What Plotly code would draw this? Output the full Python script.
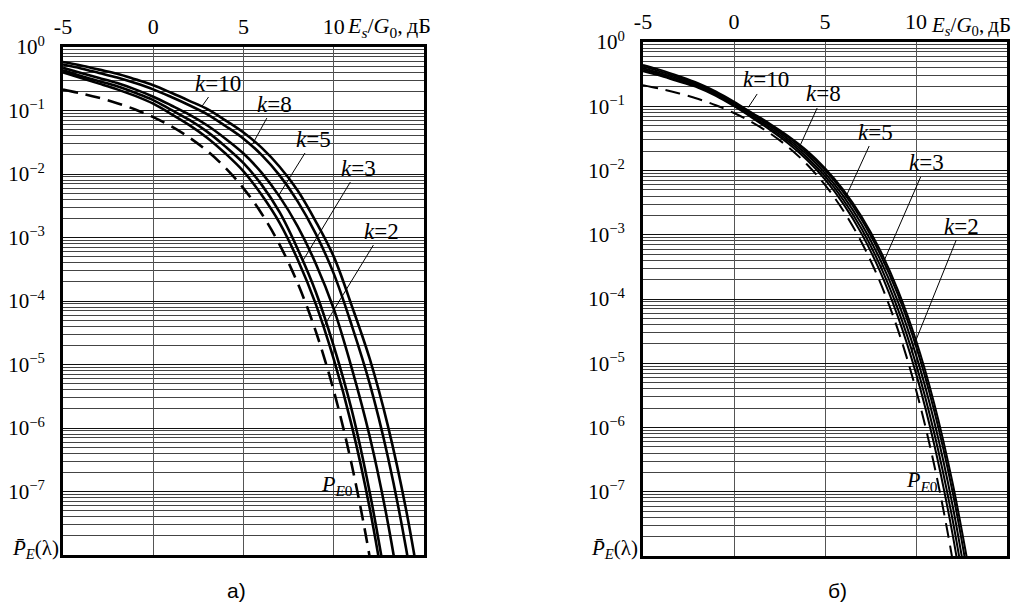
import plotly.graph_objects as go

# ---------------- data ----------------
x_left = list(range(-5, 16))          # Es/G0, dB
x_right = list(range(-5, 14))

p_e0 = [0.2132, 0.1861, 0.1584, 0.1306, 0.1038, 0.0786, 0.0563, 0.0375, 0.0229,
        0.0125, 5.95e-3, 2.39e-3, 7.73e-4, 1.91e-4, 3.36e-5, 3.87e-6, 2.61e-7,
        9.0e-9, 1.3e-10]

left_k2 = [0.40, 0.325, 0.265, 0.215, 0.17, 0.128, 0.088, 0.059, 0.037, 0.021,
           0.011, 4.7e-3, 1.7e-3, 4.5e-4, 9e-5, 1.21e-5, 1.08e-6, 5.3e-8, 1.24e-9]
left_k3 = [0.43, 0.35, 0.29, 0.24, 0.19, 0.146, 0.102, 0.071, 0.046, 0.027,
           0.0148, 6.8e-3, 2.5e-3, 6.6e-4, 1.4e-4, 1.95e-5, 1.9e-6, 9.5e-8, 2.4e-9]
left_k5 = [0.47, 0.39, 0.325, 0.27, 0.215, 0.165, 0.12, 0.086, 0.058, 0.036,
           0.021, 0.0105, 4.4e-3, 1.5e-3, 3.9e-4, 7.5e-5, 8.7e-6, 7.2e-7, 3.2e-8,
           6.5e-10]
left_k8 = [0.53, 0.46, 0.39, 0.33, 0.27, 0.215, 0.163, 0.121, 0.087, 0.057,
           0.036, 0.02, 9.5e-3, 3.7e-3, 1.15e-3, 2.7e-4, 4.1e-5, 4.9e-6, 3.5e-7,
           1.3e-8, 2.1e-10]
left_k10 = [0.58, 0.51, 0.44, 0.38, 0.31, 0.25, 0.19, 0.142, 0.105, 0.07,
            0.045, 0.026, 0.013, 5.5e-3, 1.8e-3, 5e-4, 8.4e-5, 1.21e-5, 1.08e-6,
            5.3e-8, 1.24e-9]

right_k2 = [0.35, 0.295, 0.24, 0.195, 0.145, 0.1, 0.066, 0.0425, 0.0261, 0.0147,
            0.00728, 0.00305, 1.05e-3, 2.79e-4, 5.38e-5, 6.96e-6, 5.44e-7, 2.25e-8,
            4.2e-10]
right_k3 = [0.37, 0.31, 0.253, 0.203, 0.151, 0.104, 0.069, 0.0455, 0.0282, 0.0161,
            0.00815, 0.00351, 1.25e-3, 3.46e-4, 7.03e-5, 9.7e-6, 8.2e-7, 3.8e-8,
            8e-10]
right_k5 = [0.39, 0.325, 0.265, 0.211, 0.157, 0.108, 0.0725, 0.0485, 0.0304, 0.0177,
            0.00911, 0.00404, 1.48e-3, 4.28e-4, 9.2e-5, 1.35e-5, 1.24e-6, 6.3e-8,
            1.5e-9]
right_k8 = [0.415, 0.345, 0.28, 0.221, 0.164, 0.113, 0.076, 0.051, 0.0327, 0.0193,
            0.0102, 0.00461, 1.74e-3, 5.2e-4, 1.18e-4, 1.85e-5, 1.82e-6, 1.03e-7,
            2.8e-9]
right_k10 = [0.44, 0.365, 0.293, 0.23, 0.17, 0.118, 0.079, 0.053, 0.0342, 0.0205,
             0.0109, 0.00503, 1.94e-3, 5.97e-4, 1.39e-4, 2.28e-5, 2.37e-6, 1.42e-7,
             4.4e-9]

x_tick_vals = [-5, 0, 5, 10]
x_tick_text = ["-5", "0", "5", "10"]
y_tick_vals = [1, 1e-1, 1e-2, 1e-3, 1e-4, 1e-5, 1e-6, 1e-7, 1e-8]
y_tick_text = ["10<sup>0</sup>", "10<sup>\u22121</sup>", "10<sup>\u22122</sup>",
               "10<sup>\u22123</sup>", "10<sup>\u22124</sup>", "10<sup>\u22125</sup>",
               "10<sup>\u22126</sup>", "10<sup>\u22127</sup>", ""]
y_axis_label = "<i>P\u0304</i><sub><i>E</i></sub>(\u03bb)"
minor_vals = [m * 10.0 ** e for e in range(-8, 0) for m in range(2, 10)]

# label name, text centre (x, log10 y), leader tip (x, log10 y)
left_labels = [("10", 3.61, -0.567, 2.71, -0.93),
               ("8", 6.72, -0.898, 5.5, -1.53),
               ("5", 8.89, -1.449, 6.94, -2.34),
               ("3", 11.39, -1.906, 8.28, -3.37),
               ("2", 12.67, -2.898, 9.45, -4.40)]
right_labels = [("10", 1.78, -0.591, 0.78, -1.02),
                ("8", 4.92, -0.809, 3.65, -1.60),
                ("5", 7.78, -1.401, 6.13, -2.42),
                ("3", 10.59, -1.883, 8.10, -3.50),
                ("2", 12.52, -2.864, 9.70, -4.85)]

SERIF = "Liberation Serif, Times New Roman, serif"
SANS = "Liberation Sans, Arial, sans-serif"

# the page body has an 8px margin: the figure is drawn 8px in from the corner
OFF = 8
W, H = 1026 - OFF, 615 - OFF

def px(x):
    return (x - OFF) / W

def py(y):
    return 1 - (y - OFF) / H

fig = go.Figure()

def add_panel(xs, curves, xa, ya, width):
    for vals in curves:
        fig.add_trace(go.Scatter(x=xs[:len(vals)], y=vals, mode="lines",
                                 line=dict(color="black", width=width, shape="spline"),
                                 xaxis=xa, yaxis=ya, showlegend=False, hoverinfo="skip"))
    fig.add_trace(go.Scatter(x=xs[:len(p_e0)], y=p_e0, mode="lines",
                             line=dict(color="black", width=width, dash="15px,8px",
                                       shape="spline"),
                             xaxis=xa, yaxis=ya, showlegend=False, hoverinfo="skip"))

add_panel(x_left, [left_k2, left_k3, left_k5, left_k8, left_k10], "x", "y", 2.6)
add_panel(x_right, [right_k2, right_k3, right_k5, right_k8, right_k10], "x2", "y2", 2.0)

xcommon = dict(range=[-5, 15], side="top", tickmode="array", tickvals=x_tick_vals,
               ticktext=x_tick_text, showgrid=True, gridcolor="#555", gridwidth=1,
               showline=True, mirror=True, linecolor="black", linewidth=3, ticks="",
               zeroline=False, automargin=False, ticklabelstandoff=1,
               tickfont=dict(family=SERIF, size=22, color="black"))
ycommon = dict(type="log", range=[-8, 0], tickmode="array", tickvals=y_tick_vals,
               ticktext=y_tick_text, showgrid=True, gridcolor="#111", gridwidth=1,
               minor=dict(tickmode="array", tickvals=minor_vals, showgrid=True,
                          gridcolor="#444", gridwidth=1, ticks=""),
               showline=True, mirror=True, linecolor="black", linewidth=3, ticks="",
               zeroline=False, automargin=False, ticklabelstandoff=11,
               tickfont=dict(family=SERIF, size=21, color="black"))

fig.update_layout(
    width=W, height=H, margin=dict(l=0, r=0, t=0, b=0, autoexpand=False),
    paper_bgcolor="white", plot_bgcolor="white", showlegend=False,
    xaxis=dict(domain=[px(63), px(424)], anchor="y", **xcommon),
    yaxis=dict(domain=[py(555), py(47)], anchor="x", **ycommon),
    xaxis2=dict(domain=[px(643), px(1007)], anchor="y2", **xcommon),
    yaxis2=dict(domain=[py(556), py(42)], anchor="x2", **ycommon),
)

ann = []
for xr, yr, labels in (("x", "y", left_labels), ("x2", "y2", right_labels)):
    for k, tx, ty, tipx, tipy in labels:
        ann.append(dict(x=tipx, y=tipy, xref=xr, yref=yr, ax=tx, ay=ty, axref=xr,
                        ayref=yr, text="<i>k</i>=" + k, showarrow=True, arrowhead=0,
                        arrowwidth=1, arrowcolor="black",
                        font=dict(family=SERIF, size=23, color="black")))
ann.append(dict(x=10.17, y=-6.9, xref="x", yref="y", showarrow=False,
                text="<i>P</i><sub><i>E</i>0</sub>",
                font=dict(family=SERIF, size=22, color="black")))
ann.append(dict(x=10.32, y=-6.83, xref="x2", yref="y2", showarrow=False,
                text="<i>P</i><sub><i>E</i>0</sub>",
                font=dict(family=SERIF, size=22, color="black")))
# y-axis name written at the bottom tick position of each panel
ann.append(dict(x=px(10), y=py(549), xref="paper", yref="paper", xanchor="left",
                yanchor="middle", showarrow=False, text=y_axis_label,
                font=dict(family=SERIF, size=21, color="black")))
ann.append(dict(x=px(589), y=py(549), xref="paper", yref="paper", xanchor="left",
                yanchor="middle", showarrow=False, text=y_axis_label,
                font=dict(family=SERIF, size=21, color="black")))
ax_label = "<i>E<sub>s</sub></i>/<i>G</i><sub>0</sub>,\u2009\u0434\u0411"
ann.append(dict(x=px(345), y=py(27), xref="paper", yref="paper",
                xanchor="left", yanchor="middle", showarrow=False, text=ax_label,
                font=dict(family=SERIF, size=22, color="black")))
ann.append(dict(x=px(929), y=py(26), xref="paper", yref="paper",
                xanchor="left", yanchor="middle", showarrow=False, text=ax_label,
                font=dict(family=SERIF, size=21, color="black")))
ann.append(dict(x=px(225), y=py(604), xref="paper", yref="paper",
                showarrow=False, text="\u0430)",
                font=dict(family=SANS, size=21, color="black")))
ann.append(dict(x=px(849), y=py(604), xref="paper", yref="paper",
                showarrow=False, text="\u0431)",
                font=dict(family=SANS, size=21, color="black")))
fig.update_layout(annotations=ann)

fig.write_html("out.html")
